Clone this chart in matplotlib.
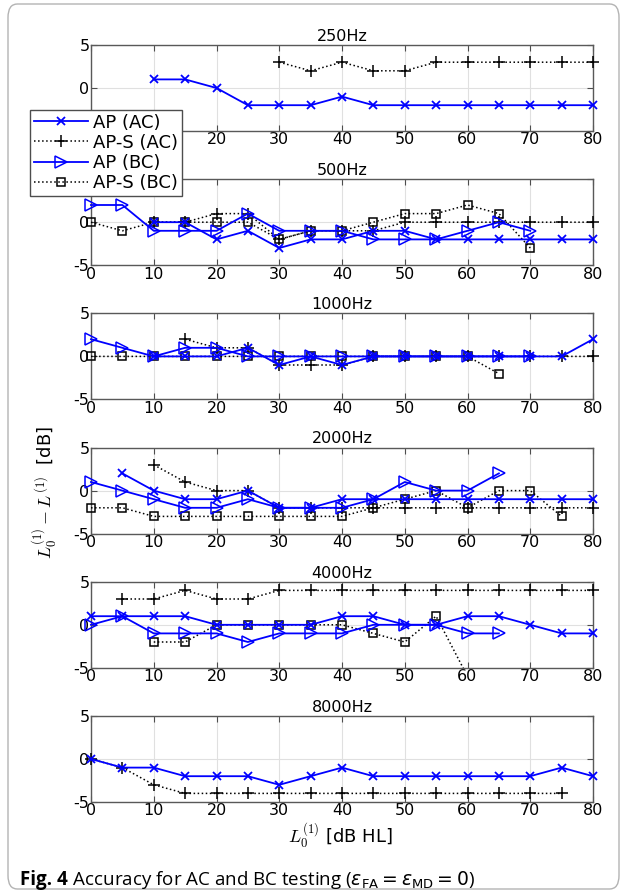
import numpy as np
import matplotlib
matplotlib.use("Agg")
import matplotlib.pyplot as plt
from matplotlib.patches import FancyBboxPatch

plt.rcParams['font.family'] = ['DejaVu Sans']
plt.rcParams['mathtext.fontset'] = 'cm'
plt.rcParams['axes.unicode_minus'] = False

nan = np.nan

# hearing level L0 [dB HL]
levels = [0, 5, 10, 15, 20, 25, 30, 35, 40, 45, 50, 55, 60, 65, 70, 75, 80]

freqs = ["250Hz", "500Hz", "1000Hz", "2000Hz", "4000Hz", "8000Hz"]

# AP (AC)
ap_ac_250 = [nan, nan, 1, 1, 0, -2, -2, -2, -1, -2, -2, -2, -2, -2, -2, -2, -2]
ap_ac_500 = [nan, nan, 0, 0, -2, -1, -3, -2, -2, -1, -1, -2, -2, -2, -2, -2, -2]
ap_ac_1000 = [nan, nan, 0, 0, 0, 1, -1, 0, -1, 0, 0, 0, 0, 0, 0, 0, 2]
ap_ac_2000 = [nan, 2, 0, -1, -1, 0, -2, -2, -1, -1, -1, -1, -1, -1, -1, -1, -1]
ap_ac_4000 = [1, 1, 1, 1, 0, 0, 0, 0, 1, 1, 0, 0, 1, 1, 0, -1, -1]
ap_ac_8000 = [0, -1, -1, -2, -2, -2, -3, -2, -1, -2, -2, -2, -2, -2, -2, -1, -2]

# AP-S (AC)
aps_ac_250 = [nan, nan, nan, nan, nan, nan, 3, 2, 3, 2, 2, 3, 3, 3, 3, 3, 3]
aps_ac_500 = [nan, nan, 0, 0, 1, 1, -2, -1, -1, -1, 0, 0, 0, 0, 0, 0, 0]
aps_ac_1000 = [nan, nan, nan, 2, 1, 1, -1, -1, -1, 0, 0, 0, 0, 0, 0, 0, 0]
aps_ac_2000 = [nan, nan, 3, 1, 0, 0, -2, -2, -2, -2, -2, -2, -2, -2, -2, -2, -2]
aps_ac_4000 = [nan, 3, 3, 4, 3, 3, 4, 4, 4, 4, 4, 4, 4, 4, 4, 4, 4]
aps_ac_8000 = [0, -1, -3, -4, -4, -4, -4, -4, -4, -4, -4, -4, -4, -4, -4, -4, nan]

# AP (BC)
ap_bc_250 = [nan] * 17
ap_bc_500 = [2, 2, -1, -1, -1, 1, -1, -1, -1, -2, -2, -2, -1, 0, -1, nan, nan]
ap_bc_1000 = [2, 1, 0, 1, 1, 0, 0, 0, 0, 0, 0, 0, 0, 0, 0, nan, nan]
ap_bc_2000 = [1, 0, -1, -2, -2, -1, -2, -2, -2, -1, 1, 0, 0, 2, nan, nan, nan]
ap_bc_4000 = [0, 1, -1, -1, -1, -2, -1, -1, -1, 0, 0, 0, -1, -1, nan, nan, nan]
ap_bc_8000 = [nan] * 17

# AP-S (BC)
aps_bc_250 = [nan] * 17
aps_bc_500 = [0, -1, 0, 0, 0, 0, -2, -1, -1, 0, 1, 1, 2, 1, -3, nan, nan]
aps_bc_1000 = [0, 0, 0, 0, 0, 0, 0, 0, 0, 0, 0, 0, 0, -2, nan, nan, nan]
aps_bc_2000 = [-2, -2, -3, -3, -3, -3, -3, -3, -3, -2, -1, 0, -2, 0, 0, -3, nan]
aps_bc_4000 = [nan, nan, -2, -2, 0, 0, 0, 0, 0, -1, -2, 1, -6, nan, nan, nan, nan]
aps_bc_8000 = [nan] * 17

ap_ac = [ap_ac_250, ap_ac_500, ap_ac_1000, ap_ac_2000, ap_ac_4000, ap_ac_8000]
aps_ac = [aps_ac_250, aps_ac_500, aps_ac_1000, aps_ac_2000, aps_ac_4000, aps_ac_8000]
ap_bc = [ap_bc_250, ap_bc_500, ap_bc_1000, ap_bc_2000, ap_bc_4000, ap_bc_8000]
aps_bc = [aps_bc_250, aps_bc_500, aps_bc_1000, aps_bc_2000, aps_bc_4000, aps_bc_8000]

W, H = 626, 894
fig = plt.figure(figsize=(W / 100, H / 100), dpi=100)

# rounded frame around figure + caption
frame = FancyBboxPatch((8 / W, 5 / H), 611 / W, 885 / H,
                       boxstyle="round,pad=0,rounding_size=0.015",
                       transform=fig.transFigure, facecolor='none',
                       edgecolor='0.7', linewidth=1.0)
fig.patches.append(frame)

styles = [
    dict(color='blue', ls='-', lw=1.3, marker='x', ms=6, mew=1.3, label='AP (AC)'),
    dict(color='black', ls=':', lw=1.1, marker='+', ms=8, mew=1.1, label='AP-S (AC)'),
    dict(color='blue', ls='-', lw=1.3, marker='>', ms=8, mfc='none', mew=1.1, label='AP (BC)'),
    dict(color='black', ls=':', lw=1.1, marker='s', ms=6, mfc='none', mew=1.1, label='AP-S (BC)'),
]

handles = None
for i, name in enumerate(freqs):
    top = 45 + 134.2 * i
    ax = fig.add_axes([91 / W, 1 - (top + 86) / H, 502 / W, 86 / H])
    series = [aps_ac[i], aps_bc[i], ap_ac[i], ap_bc[i]]
    order = [1, 3, 0, 2]
    lines = {}
    for vals, k in zip(series, order):
        v = np.array(vals, dtype=float)
        if np.all(np.isnan(v)):
            continue
        clip = bool(np.nanmin(v) < -5 or np.nanmax(v) > 5)
        ln, = ax.plot(levels, v, clip_on=clip, zorder=3, **styles[k])
        lines[k] = ln
    if len(lines) == 4:
        handles = [lines[k] for k in range(4)]
    ax.set_xlim(0, 80)
    ax.set_ylim(-5, 5)
    ax.set_xticks(range(0, 81, 10))
    ax.set_yticks([-5, 0, 5])
    ax.grid(True, color='0.88', lw=0.8)
    ax.set_axisbelow(True)
    ax.tick_params(direction='in', top=True, right=True, length=4,
                   labelsize=11.5, pad=1, color='0.3')
    for s in ax.spines.values():
        s.set_color('0.35')
        s.set_linewidth(1.0)
    ax.set_title(name, fontsize=11.5, pad=3)

fig.legend(handles, [h.get_label() for h in handles], loc='upper left',
           bbox_to_anchor=(30 / W, 1 - 110 / H), bbox_transform=fig.transFigure,
           fontsize=13, fancybox=False, framealpha=1, edgecolor='0.3',
           borderpad=0.2, labelspacing=0.12, handlelength=3.0,
           handletextpad=0.3, borderaxespad=0)

fig.text(45 / W, 1 - 492 / H, r'$L_0^{(1)} - L^{(1)}$  [dB]', rotation=90,
         ha='center', va='center', fontsize=13)
fig.text(340 / W, 1 - 836 / H, r'$L_0^{(1)}$ [dB HL]', ha='center',
         va='center', fontsize=13)

cap = fig.text(20 / W, 1 - 885 / H, 'Fig. 4', fontweight='bold', fontsize=13.5,
               ha='left', va='baseline', family=['Open Sans', 'DejaVu Sans'])
fig.canvas.draw()
fig.text(0, 0, r' Accuracy for AC and BC testing ($\varepsilon_{\mathsf{FA}} = \varepsilon_{\mathsf{MD}} = 0$)',
         fontsize=13.5, ha='left', va='baseline', family=['Open Sans', 'DejaVu Sans'],
         math_fontfamily='dejavusans',
         transform=matplotlib.transforms.offset_copy(
             fig.transFigure, fig=fig,
             x=cap.get_window_extent().x1 / fig.dpi, y=0, units='inches')
         ).set_position((0, 1 - 885 / H))

fig.savefig('out.png', dpi=100)
